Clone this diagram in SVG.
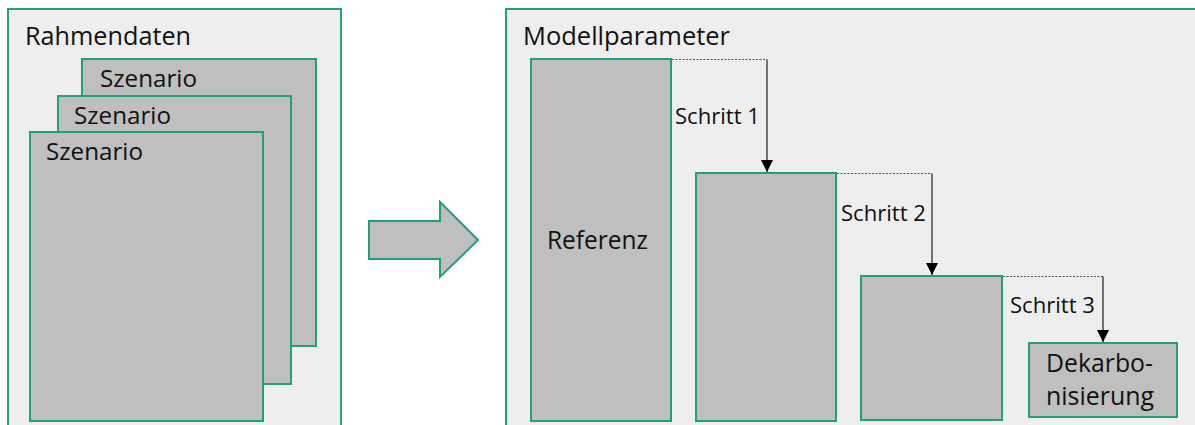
<svg xmlns="http://www.w3.org/2000/svg" width="1195" height="425" viewBox="0 0 1195 425">
  <style>
    .panel { fill: #EEEEEE; stroke: #1FA07E; stroke-width: 2; }
    .box { fill: #BFBFBF; stroke: #1FA07E; stroke-width: 2; }
    .t { font-family: "Open Sans", "Noto Sans", sans-serif; fill: #111111; }
    .big { font-size: 25px; }
    .mid { font-size: 24px; }
    .small { font-size: 21.5px; }
    .dash { fill: none; stroke: #555555; stroke-width: 1; stroke-dasharray: 2 1.5; }
    .line { fill: none; stroke: #222222; stroke-width: 1.2; }
  </style>
  <defs>
    <marker id="ah" viewBox="0 0 12 12" refX="12" refY="6" markerWidth="12" markerHeight="12" markerUnits="userSpaceOnUse" orient="auto">
      <path d="M0,0 L12,6 L0,12 Z" fill="#000000"/>
    </marker>
  </defs>
  <rect width="1195" height="425" fill="#FFFFFF"/>

  <g id="rahmendaten">
    <rect class="panel" x="8" y="9" width="333" height="430"/>
    <text class="t big" x="25" y="45" textLength="166" lengthAdjust="spacingAndGlyphs">Rahmendaten</text>
  </g>
  <g id="szenario3">
    <rect class="box" x="82" y="59" width="234" height="287"/>
    <text class="t mid" x="100" y="87" textLength="97" lengthAdjust="spacingAndGlyphs">Szenario</text>
  </g>
  <g id="szenario2">
    <rect class="box" x="58" y="96" width="233" height="288"/>
    <text class="t mid" x="74" y="124" textLength="97" lengthAdjust="spacingAndGlyphs">Szenario</text>
  </g>
  <g id="szenario1">
    <rect class="box" x="30" y="132" width="233" height="289"/>
    <text class="t mid" x="46" y="160" textLength="97" lengthAdjust="spacingAndGlyphs">Szenario</text>
  </g>

  <g id="pfeil">
    <polygon class="box" points="369,221 440,221 440,202 478,240 440,277 440,259 369,259"/>
  </g>

  <g id="modellparameter">
    <rect class="panel" x="506" y="9" width="700" height="430"/>
    <text class="t big" x="523" y="45" textLength="207" lengthAdjust="spacingAndGlyphs">Modellparameter</text>
  </g>
  <g id="referenz">
    <rect class="box" x="531" y="59" width="140" height="362"/>
    <text class="t big" x="547" y="249" textLength="101" lengthAdjust="spacingAndGlyphs">Referenz</text>
  </g>
  <g id="stufe1">
    <rect class="box" x="696" y="173" width="140" height="248"/>
  </g>
  <g id="stufe2">
    <rect class="box" x="861" y="276" width="141" height="144"/>
  </g>
  <g id="dekarbonisierung">
    <rect class="box" x="1029" y="343" width="148" height="74"/>
    <text class="t big" x="1046" y="372" textLength="107" lengthAdjust="spacingAndGlyphs">Dekarbo-</text>
    <text class="t big" x="1046" y="405" textLength="108" lengthAdjust="spacingAndGlyphs">nisierung</text>
  </g>

  <g id="connectors">
    <path class="dash" d="M672,59.5 H767"/>
    <path class="line" d="M767,59.5 V172" marker-end="url(#ah)"/>
    <text class="t small" x="675" y="124" textLength="85" lengthAdjust="spacingAndGlyphs">Schritt 1</text>

    <path class="dash" d="M837,173.5 H932"/>
    <path class="line" d="M932,173.5 V275" marker-end="url(#ah)"/>
    <text class="t small" x="841" y="221" textLength="85" lengthAdjust="spacingAndGlyphs">Schritt 2</text>

    <path class="dash" d="M1003,276.5 H1103"/>
    <path class="line" d="M1103,276.5 V342" marker-end="url(#ah)"/>
    <text class="t small" x="1010" y="313" textLength="85" lengthAdjust="spacingAndGlyphs">Schritt 3</text>
  </g>
</svg>
